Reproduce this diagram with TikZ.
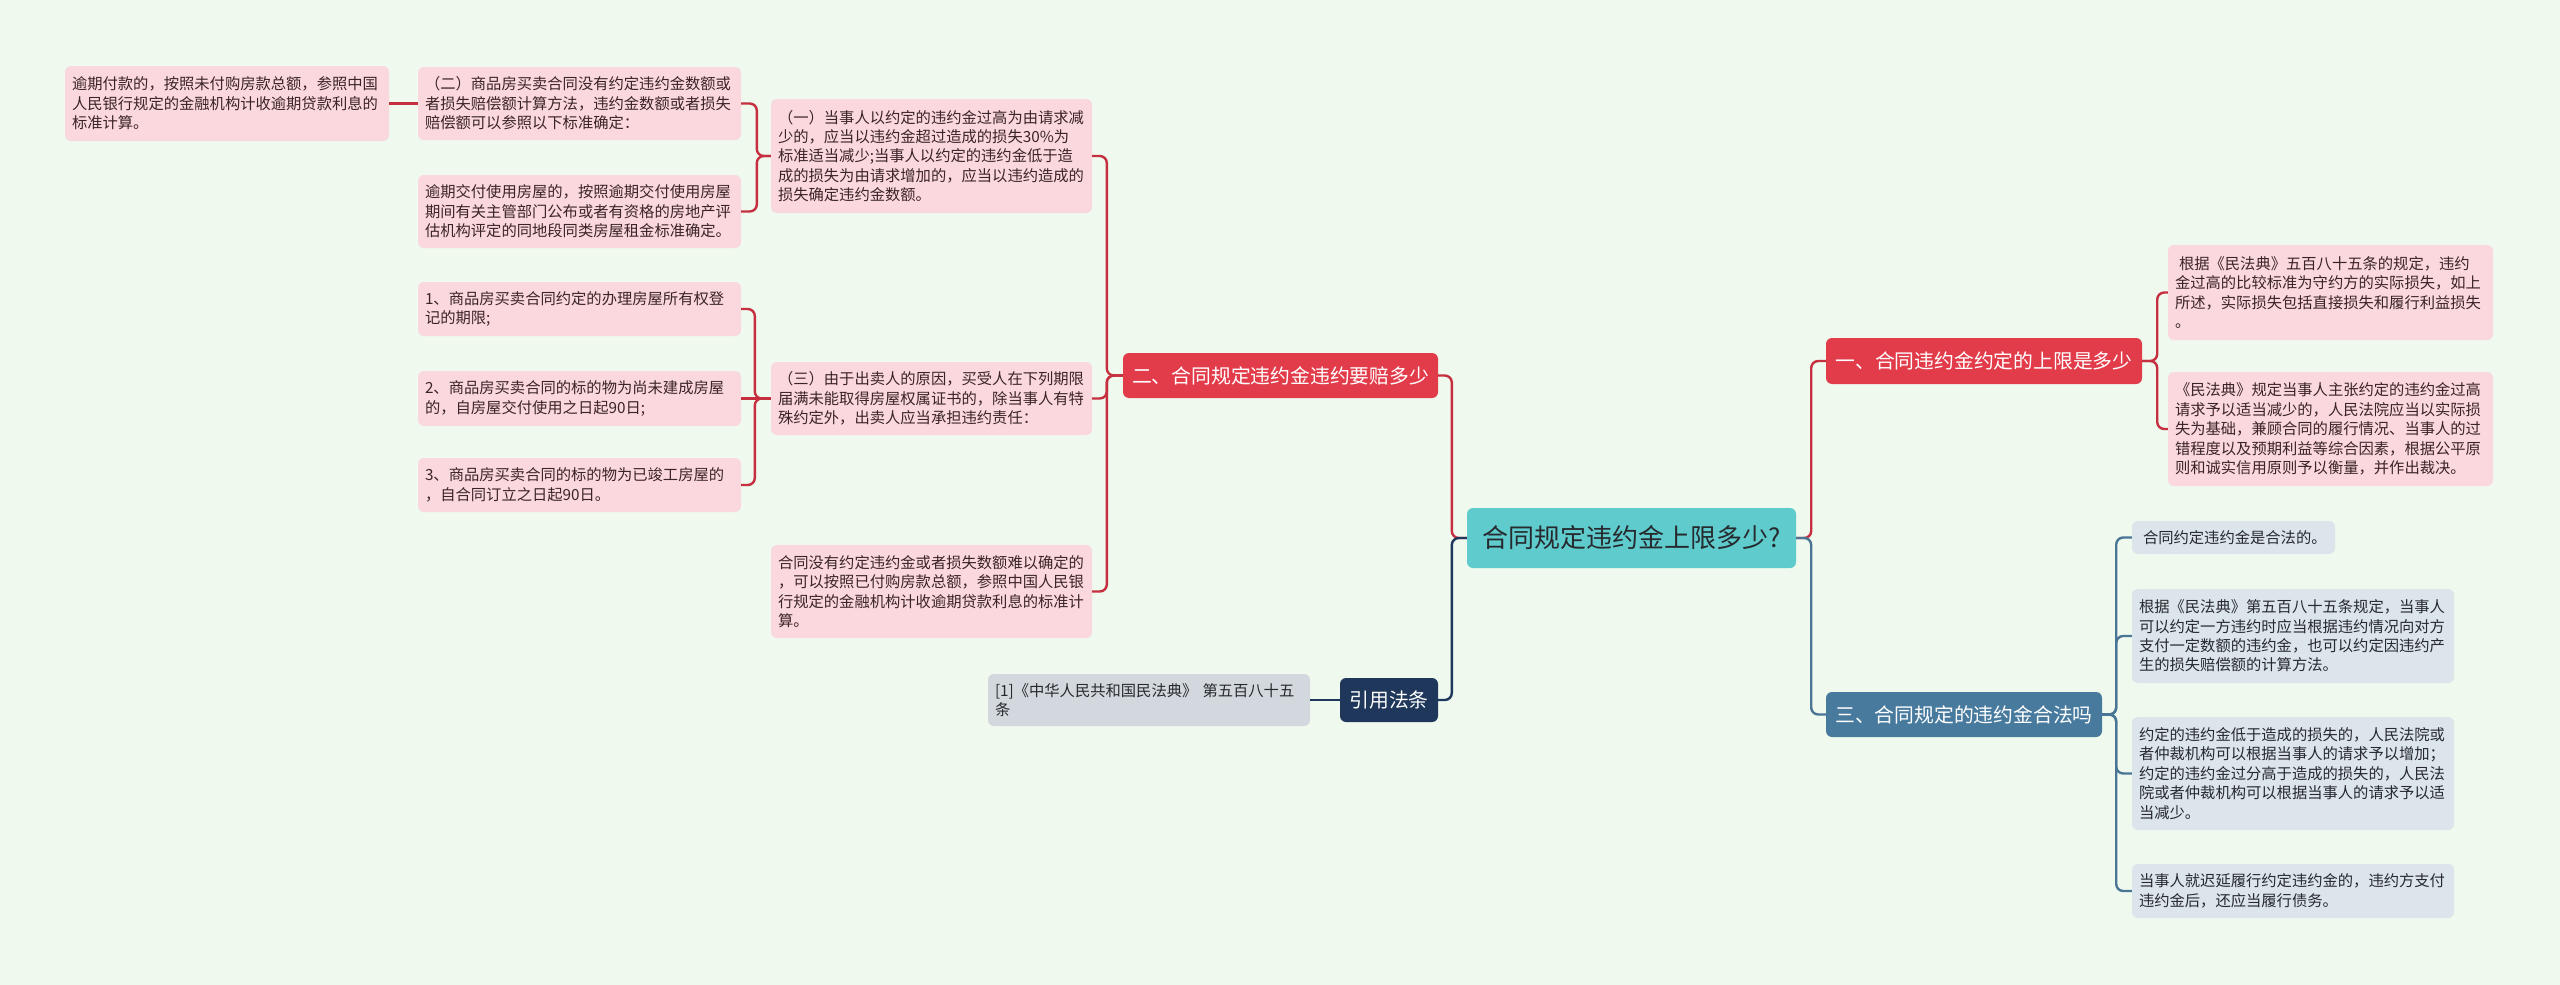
\documentclass[tikz,border=0pt]{standalone}
\usepackage{fontspec}
\setmainfont{Noto Sans CJK SC}
\definecolor{bgc}{HTML}{EFF9EE}
\definecolor{pinkfill}{HTML}{FAD8DD}
\definecolor{pinktext}{HTML}{3B2427}
\definecolor{redfill}{HTML}{E23C4B}
\definecolor{redln}{HTML}{C62F40}
\definecolor{bluefill}{HTML}{DCE4EC}
\definecolor{bluenode}{HTML}{487A9E}
\definecolor{blueln}{HTML}{4A7595}
\definecolor{navyfill}{HTML}{1E375A}
\definecolor{greyfill}{HTML}{D3D8DE}
\definecolor{tealfill}{HTML}{5FCBCD}
\definecolor{darktext}{HTML}{262A2E}
\tikzset{
  basebox/.style={rectangle, rounded corners=6pt, inner xsep=7pt, inner ysep=0pt, align=left},
  pinkbox/.style={basebox, fill=pinkfill, text=pinktext, font=\fontsize{15.3}{19.4}\selectfont},
  bluebox/.style={basebox, fill=bluefill, text=darktext, font=\fontsize{15.3}{19.4}\selectfont},
  greybox/.style={basebox, fill=greyfill, text=darktext, font=\fontsize{15.3}{19.4}\selectfont},
  rednode/.style={basebox, align=center, fill=redfill, text=white, font=\fontsize{19.8}{24}\selectfont},
  bluenodestyle/.style={basebox, align=center, fill=bluenode, text=white, font=\fontsize{19.8}{24}\selectfont},
  navynode/.style={basebox, align=center, fill=navyfill, text=white, font=\fontsize{19.8}{24}\selectfont},
  rootnode/.style={basebox, align=center, fill=tealfill, text=darktext, font=\fontsize{26}{30}\selectfont},
  conn/.style={line width=2.4pt, rounded corners=7pt},
  redline/.style={conn, draw=redln},
  blueline/.style={conn, draw=blueln},
  navyline/.style={conn, draw=navyfill},
}
\newcommand\placebox[7]{%
  \pgfmathsetmacro\bw{#5-#3}\pgfmathsetmacro\bh{#6-#4}%
  \pgfmathsetmacro\bx{(#3+#5)/2}\pgfmathsetmacro\by{(#4+#6)/2}%
  \pgfmathsetmacro\tw{#5-#3-14}%
  \node[#1, minimum width=\bw pt, minimum height=\bh pt, text width=\tw pt] (#2) at (\bx,\by) {#7};%
}
\begin{document}
\begin{tikzpicture}[x=1pt,y=-1pt]
\fill[bgc] (0,0) rectangle (2560,985);
\useasboundingbox (0,0) rectangle (2560,985);

% root
\placebox{rootnode}{root}{1467}{508}{1796}{568}{合同规定违约金上限多少?}

% main branches
\placebox{rednode}{rtwo}{1123}{353}{1438}{398}{二、合同规定违约金违约要赔多少}
\placebox{navynode}{cite}{1340}{678}{1438}{722}{引用法条}
\placebox{rednode}{rone}{1826}{338}{2142}{384}{一、合同违约金约定的上限是多少}
\placebox{bluenodestyle}{rthree}{1826}{692}{2102}{737}{三、合同规定的违约金合法吗}

% left side
\placebox{pinkbox}{pyi}{771}{99}{1092}{213}{（一）当事人以约定的违约金过高为由请求减\\少的，应当以违约金超过造成的损失30\%为\\标准适当减少;当事人以约定的违约金低于造\\成的损失为由请求增加的，应当以违约造成的\\损失确定违约金数额。}
\placebox{pinkbox}{psan}{771}{362}{1092}{435}{（三）由于出卖人的原因，买受人在下列期限\\届满未能取得房屋权属证书的，除当事人有特\\殊约定外，出卖人应当承担违约责任：}
\placebox{pinkbox}{pnone}{771}{545}{1092}{638}{合同没有约定违约金或者损失数额难以确定的\\，可以按照已付购房款总额，参照中国人民银\\行规定的金融机构计收逾期贷款利息的标准计\\算。}
\placebox{pinkbox}{per}{418}{67}{741}{140}{（二）商品房买卖合同没有约定违约金数额或\\者损失赔偿额计算方法，违约金数额或者损失\\赔偿额可以参照以下标准确定：}
\placebox{pinkbox}{pjf}{418}{175}{741}{248}{逾期交付使用房屋的，按照逾期交付使用房屋\\期间有关主管部门公布或者有资格的房地产评\\估机构评定的同地段同类房屋租金标准确定。}
\placebox{pinkbox}{pfk}{65}{66}{389}{141}{逾期付款的，按照未付购房款总额，参照中国\\人民银行规定的金融机构计收逾期贷款利息的\\标准计算。}
\placebox{pinkbox}{pa}{418}{282}{741}{336}{1、商品房买卖合同约定的办理房屋所有权登\\记的期限;}
\placebox{pinkbox}{pb}{418}{371}{741}{426}{2、商品房买卖合同的标的物为尚未建成房屋\\的，自房屋交付使用之日起90日;}
\placebox{pinkbox}{pc}{418}{458}{741}{512}{3、商品房买卖合同的标的物为已竣工房屋的\\，自合同订立之日起90日。}
\placebox{greybox}{law}{988}{674}{1310}{726}{[1]《中华人民共和国民法典》 第五百八十五\\条}

% right side
\placebox{pinkbox}{ra}{2168}{245}{2493}{340}{\hspace{4pt}根据《民法典》五百八十五条的规定，违约\\金过高的比较标准为守约方的实际损失，如上\\所述，实际损失包括直接损失和履行利益损失\\。}
\placebox{pinkbox}{rb}{2168}{372}{2493}{486}{《民法典》规定当事人主张约定的违约金过高\\请求予以适当减少的，人民法院应当以实际损\\失为基础，兼顾合同的履行情况、当事人的过\\错程度以及预期利益等综合因素，根据公平原\\则和诚实信用原则予以衡量，并作出裁决。}
\placebox{bluebox}{ca}{2132}{521}{2335}{554}{\hspace{4pt}合同约定违约金是合法的。}
\placebox{bluebox}{cb}{2132}{589}{2454}{683}{根据《民法典》第五百八十五条规定，当事人\\可以约定一方违约时应当根据违约情况向对方\\支付一定数额的违约金，也可以约定因违约产\\生的损失赔偿额的计算方法。}
\placebox{bluebox}{cc}{2132}{717}{2454}{830}{约定的违约金低于造成的损失的，人民法院或\\者仲裁机构可以根据当事人的请求予以增加；\\约定的违约金过分高于造成的损失的，人民法\\院或者仲裁机构可以根据当事人的请求予以适\\当减少。}
\placebox{bluebox}{cd}{2132}{864}{2454}{918}{当事人就迟延履行约定违约金的，违约方支付\\违约金后，还应当履行债务。}

% connectors: root
\draw[redline] (root.west) -- ++(-15,0) |- (rtwo.east);
\draw[navyline] (root.west) -- ++(-15,0) |- (cite.east);
\draw[redline] (root.east) -- ++(15,0) |- (rone.west);
\draw[blueline] (root.east) -- ++(15,0) |- (rthree.west);

% left tree
\foreach \c in {pyi,psan,pnone}{\draw[redline] (rtwo.west) -- ++(-16,0) |- (\c.east);}
\foreach \c in {per,pjf}{\draw[redline] (pyi.west) -- ++(-14,0) |- (\c.east);}
\draw[redline] (per.west) -- (pfk.east);
\foreach \c in {pa,pc}{\draw[redline] (psan.west) -- ++(-16,0) |- (\c.east);}
\draw[redline] (psan.west) -- (pb.east);
\draw[navyline] (cite.west) -- (law.east);

% right tree
\foreach \c in {ra,rb}{\draw[redline] (rone.east) -- ++(15,0) |- (\c.west);}
\foreach \c in {ca,cb,cc,cd}{\draw[blueline] (rthree.east) -- ++(14,0) |- (\c.west);}
\end{tikzpicture}
\end{document}
